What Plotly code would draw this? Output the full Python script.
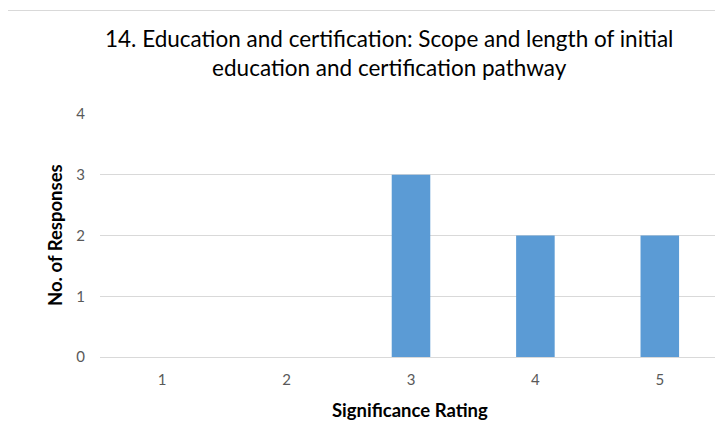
import plotly.graph_objects as go

categories = [1, 2, 3, 4, 5]
responses = [0, 0, 3, 2, 2]
y_ticks = [0, 1, 2, 3, 4]
title_text = "14. Education and certification: Scope and length of initial<br>education and certification pathway"
x_title = "Significance Rating"
y_title = "No. of Responses"

FONT = "Lato"
OFF = 8  # page body margin offset
W, H = 723 - OFF, 435 - OFF
L, T = 100 - OFF, 114 - OFF
PB = 357 - OFF  # plot bottom in figure px
PR = 722 - OFF
PW = PR - L
PH = PB - T

fig = go.Figure(go.Bar(x=categories, y=responses, width=0.31,
                       marker=dict(color="#5B9BD5", line=dict(width=0))))

fig.update_layout(
    width=W, height=H,
    margin=dict(l=L, r=W - PR, t=T, b=H - PB),
    paper_bgcolor="white", plot_bgcolor="white",
    showlegend=False,
    font=dict(family=FONT, color="#595959", size=15),
)
fig.update_xaxes(range=[0.5, 5.5], tickvals=categories, ticktext=[str(c) for c in categories],
                 showgrid=False, zeroline=False, showline=False, ticks="",
                 ticklabelstandoff=12, tickfont=dict(size=15, color="#595959"))
fig.update_yaxes(range=[0, 4], tickvals=y_ticks, showgrid=True, gridcolor="#D9D9D9",
                 gridwidth=1, zeroline=True, zerolinecolor="#D9D9D9", zerolinewidth=1,
                 showline=False, ticks="", ticklabelstandoff=14,
                 tickfont=dict(size=15, color="#595959"))

def px_x(p):
    return (p - OFF - L) / PW

def px_y(p):
    return (PB - (p - OFF)) / PH

# chart border
fig.add_shape(type="rect", xref="paper", yref="paper",
              x0=px_x(7), x1=2.0, y0=-1.0, y1=px_y(10.5),
              line=dict(color="#D9D9D9", width=1), fillcolor="rgba(0,0,0,0)", layer="below")

fig.add_annotation(text=title_text, xref="paper", yref="paper",
                   x=px_x(389), y=px_y(53), xanchor="center", yanchor="middle",
                   showarrow=False, align="center",
                   font=dict(family=FONT, size=22.5, color="#000000"))
fig.add_annotation(text="<b>" + x_title + "</b>", xref="paper", yref="paper",
                   x=px_x(410), y=px_y(410), xanchor="center", yanchor="middle",
                   showarrow=False, font=dict(family=FONT, size=18.5, color="#000000"))
fig.add_annotation(text="<b>" + y_title + "</b>", xref="paper", yref="paper",
                   x=px_x(55), y=px_y(235), xanchor="center", yanchor="middle",
                   textangle=-90, showarrow=False, font=dict(family=FONT, size=18.5, color="#000000"))

fig.write_html("out.html")
